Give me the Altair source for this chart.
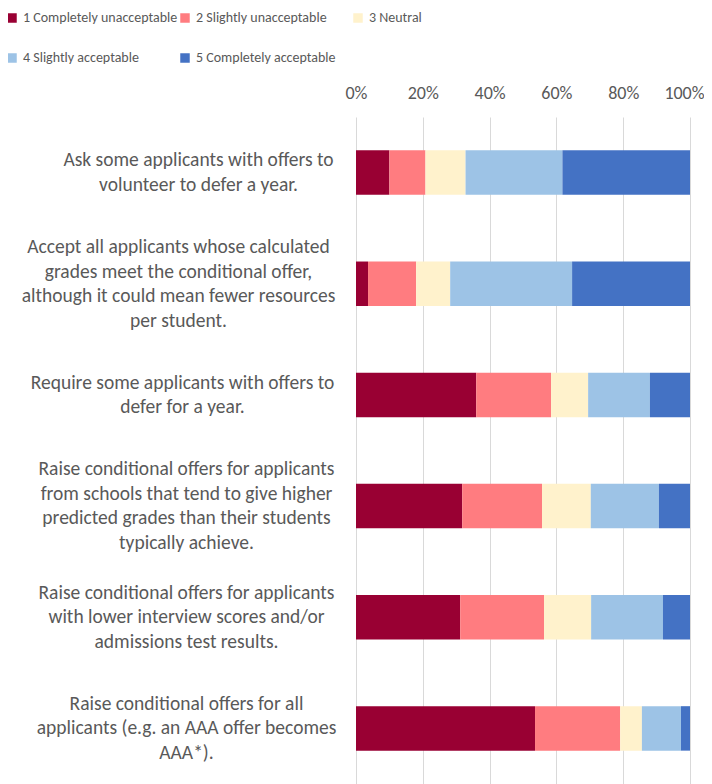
import altair as alt
import pandas as pd

questions = [
    "Ask some applicants with offers to|volunteer to defer a year.",
    "Accept all applicants whose calculated|grades meet the conditional offer,|although it could mean fewer resources|per student.",
    "Require some applicants with offers to|defer for a year.",
    "Raise conditional offers for applicants|from schools that tend to give higher|predicted grades than their students|typically achieve.",
    "Raise conditional offers for applicants|with lower interview scores and/or|admissions test results.",
    "Raise conditional offers for all|applicants (e.g. an AAA offer becomes|AAA*).",
]
ratings = [
    "1 Completely unacceptable",
    "2 Slightly unacceptable",
    "3 Neutral",
    "4 Slightly acceptable",
    "5 Completely acceptable",
]
colors = ["#990033", "#FF7C80", "#FFF2CC", "#9DC3E6", "#4472C4"]

completely_unacceptable = [10.0, 3.6, 36.0, 31.8, 31.2, 53.6]
slightly_unacceptable = [10.8, 14.4, 22.4, 23.9, 25.1, 25.5]
neutral = [12.0, 10.2, 11.1, 14.6, 14.1, 6.5]
slightly_acceptable = [29.0, 36.5, 18.5, 20.4, 21.5, 11.7]
completely_acceptable = [38.2, 35.3, 12.0, 9.3, 8.1, 2.7]

series = [completely_unacceptable, slightly_unacceptable, neutral,
          slightly_acceptable, completely_acceptable]

rows = []
for ri, (rating, vals) in enumerate(zip(ratings, series)):
    for q, v in zip(questions, vals):
        rows.append({"question": q, "rating": rating, "order": ri, "value": v})
df = pd.DataFrame(rows)

FONT = "Carlito, Lato, sans-serif"
GRAY = "#595959"
LINE_H = 24.5

label_pad = {
    "condition": [
        {"test": f"datum.value === '{questions[0]}'", "value": 158},
        {"test": f"datum.value === '{questions[1]}'", "value": 178},
        {"test": f"datum.value === '{questions[2]}'", "value": 174},
    ],
    "value": 170,
}
label_off = {
    "condition": [
        {"test": "length(split(datum.value, '|')) == 4", "value": -1.5 * LINE_H},
        {"test": "length(split(datum.value, '|')) == 3", "value": -1.0 * LINE_H},
    ],
    "value": -0.5 * LINE_H,
}
x_label_off = {"condition": {"test": "datum.value == 100", "value": -6}, "value": 0}

chart = alt.Chart(df).mark_bar().encode(
    y=alt.Y(
        "question:N",
        sort=questions,
        scale=alt.Scale(paddingInner=0.6, paddingOuter=0.3),
        axis=alt.Axis(
            title=None,
            labelExpr="split(datum.label, '|')",
            labelAlign="center",
            labelBaseline="middle",
            labelFont=FONT,
            labelFontSize=19.5,
            labelLineHeight=LINE_H,
            labelColor=GRAY,
            labelLimit=400,
            labelPadding=label_pad,
            labelOffset=label_off,
            ticks=False,
            domain=False,
        ),
    ),
    x=alt.X(
        "value:Q",
        stack="zero",
        scale=alt.Scale(domain=[0, 100], nice=False),
        axis=alt.Axis(
            title=None,
            orient="top",
            values=[0, 20, 40, 60, 80, 100],
            labelExpr="datum.value + '%'",
            labelFont=FONT,
            labelFontSize=18,
            labelColor=GRAY,
            labelPadding=15,
            labelFlush=False,
            labelOffset=x_label_off,
            ticks=False,
            domain=False,
            grid=True,
            gridColor="#D9D9D9",
            gridWidth=1,
        ),
    ),
    color=alt.Color(
        "rating:N",
        scale=alt.Scale(domain=ratings, range=colors),
        legend=alt.Legend(
            title=None,
            orient="none",
            legendX=-351,
            legendY=-106,
            padding=0,
            direction="horizontal",
            columns=3,
            gridAlign="all",
            columnPadding=0,
            rowPadding=26,
            symbolType="square",
            symbolSize=90,
            symbolStrokeWidth=0,
            labelFont=FONT,
            labelFontSize=14,
            labelColor=GRAY,
            labelOffset=4,
            labelLimit=300,
        ),
    ),
    order=alt.Order("order:Q"),
).properties(
    width=334,
    height=667,
    autosize=alt.AutoSizeParams(type="none"),
    padding={"left": 348, "top": 109, "right": 14, "bottom": 0},
).configure_view(stroke=None)

chart.save("out.html", embed_options={"renderer": "svg", "actions": False})
